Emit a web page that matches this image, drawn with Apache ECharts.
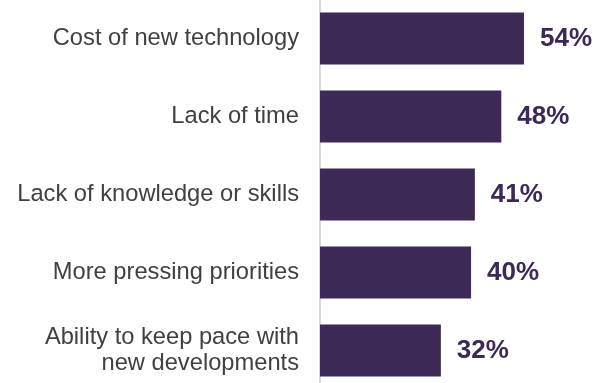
<!DOCTYPE html>
<html>
<head>
<meta charset="utf-8">
<script src="https://cdn.jsdelivr.net/npm/echarts@6/dist/echarts.min.js"></script>
<style>
html,body{margin:0;padding:0;background:#fff;}
#chart{width:603px;height:383px;}
</style>
</head>
<body>
<div id="chart"></div>
<script>
const categories = [
  "Cost of new technology",
  "Lack of time",
  "Lack of knowledge or skills",
  "More pressing priorities",
  "Ability to keep pace with\nnew developments"
];
const values = [54, 48, 41, 40, 32];

const chart = echarts.init(document.getElementById('chart'), null, {renderer: 'canvas'});
chart.setOption({
  animation: false,
  backgroundColor: '#ffffff',
  grid: {left: 320, right: 18.6, top: -0.5, height: 390, containLabel: false, outerBoundsMode: 'none'},
  xAxis: {
    type: 'value', min: 0, max: 70,
    show: false
  },
  yAxis: {
    type: 'category',
    data: categories,
    inverse: true,
    axisLine: {show: true, lineStyle: {color: '#d9d9d9', width: 2}},
    axisTick: {show: false},
    axisLabel: {
      margin: 21,
      fontFamily: '"Liberation Sans", Arial, sans-serif',
      fontSize: 23.7,
      lineHeight: 26,
      color: '#404040',
      align: 'right'
    },
    splitLine: {show: false}
  },
  series: [{
    type: 'bar',
    data: values,
    barWidth: 52,
    itemStyle: {color: '#3c2956'},
    label: {
      show: true,
      position: 'right',
      distance: 16,
      formatter: p => p.value + '%',
      fontFamily: '"Liberation Sans", Arial, sans-serif',
      fontWeight: 'bold',
      fontSize: 26,
      color: '#3c2956'
    }
  }]
});
</script>
</body>
</html>
